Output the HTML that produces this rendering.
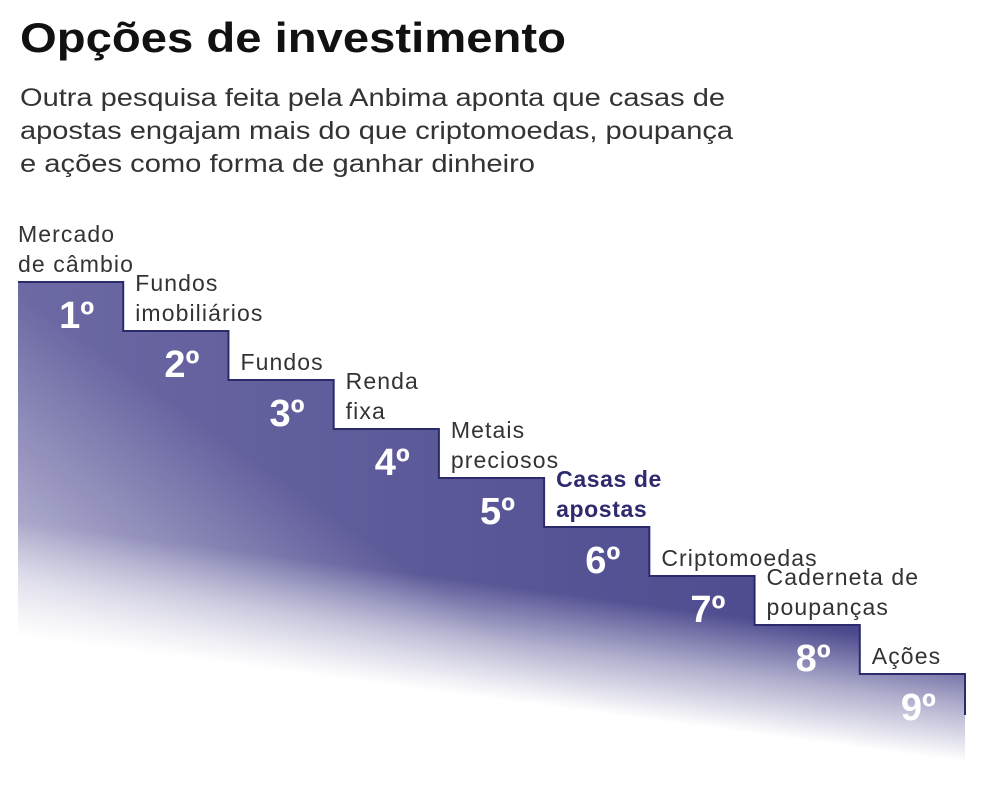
<!DOCTYPE html>
<html><head><meta charset="utf-8"><style>
body{margin:0;background:#fff;width:984px;height:794px;overflow:hidden;font-family:"Liberation Sans",sans-serif}
</style></head><body>
<svg width="984" height="794" xmlns="http://www.w3.org/2000/svg">
<defs>
<linearGradient id="base" gradientUnits="userSpaceOnUse" x1="18" y1="0" x2="965" y2="0">
<stop offset="0" stop-color="#6c69a4"/><stop offset="1" stop-color="#47448a"/>
</linearGradient>
<linearGradient id="fade" gradientUnits="userSpaceOnUse" x1="500" y1="585" x2="485" y2="698">
<stop offset="0" stop-color="#fff" stop-opacity="0"/>
<stop offset="0.5" stop-color="#fff" stop-opacity="0.55"/>
<stop offset="1" stop-color="#fff" stop-opacity="1"/>
</linearGradient>
<linearGradient id="fade2" gradientUnits="userSpaceOnUse" x1="200" y1="420" x2="60" y2="620">
<stop offset="0" stop-color="#fff" stop-opacity="0"/>
<stop offset="1" stop-color="#fff" stop-opacity="0.55"/>
</linearGradient>
</defs>
<text x="20" y="52" font-size="42" font-weight="bold" fill="#111" textLength="546" lengthAdjust="spacingAndGlyphs">Opções de investimento</text>
<g font-size="25" fill="#333">
<text x="20" y="106" textLength="705" lengthAdjust="spacingAndGlyphs">Outra pesquisa feita pela Anbima aponta que casas de</text>
<text x="20" y="139" textLength="713" lengthAdjust="spacingAndGlyphs">apostas engajam mais do que criptomoedas, poupança</text>
<text x="20" y="172" textLength="515" lengthAdjust="spacingAndGlyphs">e ações como forma de ganhar dinheiro</text>
</g>
<g id="stairs"></g>
</svg>
<script>
const categories=[["Mercado","de câmbio"],["Fundos","imobiliários"],["Fundos"],["Renda","fixa"],["Metais","preciosos"],["Casas de","apostas"],["Criptomoedas"],["Caderneta de","poupanças"],["Ações"]];
const ranks=[1,2,3,4,5,6,7,8,9];
const highlight=[false,false,false,false,false,true,false,false,false];
const NS="http://www.w3.org/2000/svg";
const g=document.getElementById('stairs');
const x0=18,x1=965,top0=282,stepH=49,bottom=770;
const n=categories.length,w=(x1-x0)/n;
const yOf=r=>top0+(r-1)*stepH;
let d=`M${x0},${bottom}`;let line="";
ranks.forEach((r,i)=>{const xa=x0+i*w,xb=xa+w,y=yOf(r);d+=` L${xa},${y} L${xb},${y}`;line+=(i?' L':'M')+`${xa},${y} L${xb},${y}`;});
d+=` L${x1},${bottom} Z`;line+=` L${x1},715`;
function mk(tag,attrs){const e=document.createElementNS(NS,tag);for(const k in attrs)e.setAttribute(k,attrs[k]);return e;}
const area=mk('path',{d:d,fill:'url(#base)'});


g.appendChild(area);
const fade2=mk('path',{d:d,fill:'url(#fade2)'});


g.appendChild(fade2);
const fade=mk('path',{d:d,fill:'url(#fade)'});


g.appendChild(fade);
const edge=mk('path',{d:line,fill:'none',stroke:'#2b2a6a','stroke-width':2});


g.appendChild(edge);
ranks.forEach((r,i)=>{
 const xa=x0+i*w,y=yOf(r);
 const num=mk('text',{x:xa+w/2+6,y:y+46,'font-size':38,'font-weight':'bold',fill:'#fff','text-anchor':'middle'});
 num.textContent=r+'º';
 
 
 g.appendChild(num);
 const lines=categories[i];
 const lx=i===0?x0:xa+12;
 const by=y-(lines.length-1)*30-10;
 lines.forEach((t,j)=>{
  const tx=mk('text',{x:lx,y:by+j*30,'font-size':23,'letter-spacing':highlight[i]?0.6:1.1,fill:highlight[i]?'#2e2a6e':'#333','font-weight':highlight[i]?'bold':'normal'});
  tx.textContent=t;
  
  
  g.appendChild(tx);
 });
});
</script>
</body></html>
